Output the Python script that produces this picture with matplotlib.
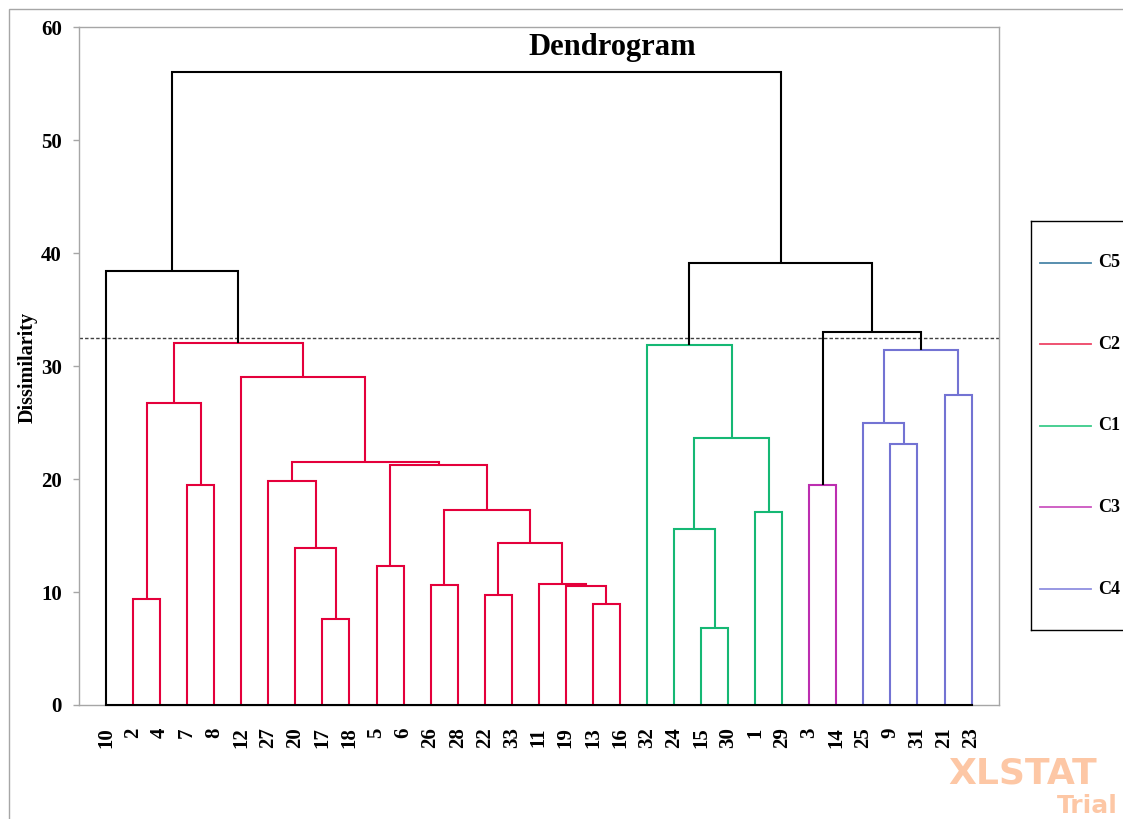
import matplotlib
matplotlib.use("Agg")
import matplotlib.pyplot as plt
from matplotlib.patches import Rectangle

# ---------------- data ----------------
leaves = ['10', '2', '4', '7', '8', '12', '27', '20', '17', '18', '5', '6', '26', '28',
          '22', '33', '11', '19', '13', '16', '32', '24', '15', '30', '1', '29', '3',
          '14', '25', '9', '31', '21', '23']

# merges: (left child, right child, dissimilarity, cluster)
merge_left = ['2', '7', 'm0', '17', '20', '27', '5', '26', '22', '13', '19', '11', 'm8',
              'm7', 'm6', 'm5', '12', 'm2', '10',
              '15', '24', '1', 'm20', '32',
              '3', '9', '25', '21', 'm26', 'm24', 'm23', 'm18']
merge_right = ['4', '8', 'm1', '18', 'm3', 'm4', '6', '28', '33', '16', 'm9', 'm10', 'm11',
               'm12', 'm13', 'm14', 'm15', 'm16', 'm17',
               '30', 'm19', '29', 'm21', 'm22',
               '14', '31', 'm25', '23', 'm27', 'm28', 'm29', 'm30']
merge_height = [9.4, 19.5, 26.7, 7.6, 13.9, 19.85, 12.3, 10.6, 9.7, 8.96, 10.55, 10.7, 14.3,
                17.3, 21.2, 21.5, 29.0, 32.0, 38.4,
                6.85, 15.6, 17.1, 23.6, 31.9,
                19.5, 23.1, 25.0, 27.4, 31.45, 33.0, 39.1, 56.0]
merge_cluster = ['C2'] * 18 + ['none'] + ['C1'] * 5 + ['C3'] + ['C4'] * 4 + ['none'] * 3

cut_level = 32.5
legend_clusters = ['C5', 'C2', 'C1', 'C3', 'C4']
cluster_colors = {'C5': '#4A86A8', 'C2': '#E4003B', 'C1': '#15B874', 'C3': '#BC2EB0',
                  'C4': '#7373D3', 'none': 'black'}
legend_colors = {'C5': '#4A86A8', 'C2': '#EE4466', 'C1': '#3CCB8A', 'C3': '#CC55C0',
                 'C4': '#9090E0'}

# ---------------- figure ----------------
W, H = 1123, 819
fig = plt.figure(figsize=(W / 100, H / 100), dpi=100)
serif = 'Liberation Serif'

ax = fig.add_axes([79 / W, (H - 705) / H, 920 / W, 678 / H])
spacing = 27.05
ax.set_xlim((79 - 106) / spacing, (999 - 106) / spacing)
ax.set_ylim(0, 60)

pos = {lab: i for i, lab in enumerate(leaves)}
hgt = {lab: 0.0 for lab in leaves}
for k, (a, b, h, c) in enumerate(zip(merge_left, merge_right, merge_height, merge_cluster)):
    xa, xb = pos[a], pos[b]
    ya, yb = hgt[a], hgt[b]
    ax.plot([xa, xa, xb, xb], [ya, h, h, yb], color=cluster_colors[c], lw=1.5,
            solid_joinstyle='miter', solid_capstyle='butt', zorder=3)
    pos['m%d' % k] = (xa + xb) / 2
    hgt['m%d' % k] = h

# baseline from first to last leaf
ax.plot([0, len(leaves) - 1], [0, 0], color='black', lw=1.5, zorder=4, clip_on=False)
# truncation line
ax.axhline(cut_level, color='#404040', lw=1, ls=(0, (2.5, 1.5)), zorder=2)

for s in ax.spines.values():
    s.set_color('#A6A6A6')
    s.set_linewidth(1)

ax.set_yticks(range(0, 61, 10))
ax.set_yticklabels([str(v) for v in range(0, 61, 10)], fontfamily=serif,
                   fontweight='bold', fontsize=15)
ax.tick_params(axis='y', direction='out', length=4.5, width=1, color='#A6A6A6', pad=8)
ax.set_xticks(range(len(leaves)))
ax.set_xticklabels(leaves, rotation=90, fontfamily=serif, fontweight='bold', fontsize=15,
                   va='top', ha='center')
ax.tick_params(axis='x', length=0, pad=16)

fig.text(612 / W, 1 - 47 / H, 'Dendrogram', ha='center', va='center', fontsize=22,
         fontweight='bold', fontfamily=serif)
fig.text(28 / W, 1 - 367 / H, 'Dissimilarity', ha='center', va='center', rotation=90,
         fontsize=14.5, fontweight='bold', fontfamily=serif)

# legend box
lax = fig.add_axes([1031 / W, (H - 630) / H, 120 / W, 409 / H])
lax.set_xlim(0, 120)
lax.set_ylim(409, 0)
lax.set_xticks([])
lax.set_yticks([])
for s in lax.spines.values():
    s.set_color('black')
    s.set_linewidth(1)
for i, cl in enumerate(legend_clusters):
    yy = 42 + i * 81.5
    lax.plot([9, 60], [yy, yy], color=legend_colors[cl], lw=1.3)
    lax.text(67, yy, cl, ha='left', va='center', fontsize=13, fontweight='bold',
             fontfamily=serif)

# outer border
fig.add_artist(Rectangle((9 / W, -0.1), 1.2, (H - 9) / H + 0.1, transform=fig.transFigure,
                         fill=False, edgecolor='#A6A6A6', lw=1))

# watermark
fig.text(948 / W, 1 - 784 / H, 'XLSTAT', ha='left', va='baseline', fontsize=26,
         fontweight='bold', fontfamily='DejaVu Sans', color='#FDC7A5')
fig.text(1118 / W, 1 - 813 / H, 'Trial', ha='right', va='baseline', fontsize=18,
         fontweight='bold', fontfamily='DejaVu Sans', color='#FDC7A5')

fig.savefig('out.png', dpi=100)
